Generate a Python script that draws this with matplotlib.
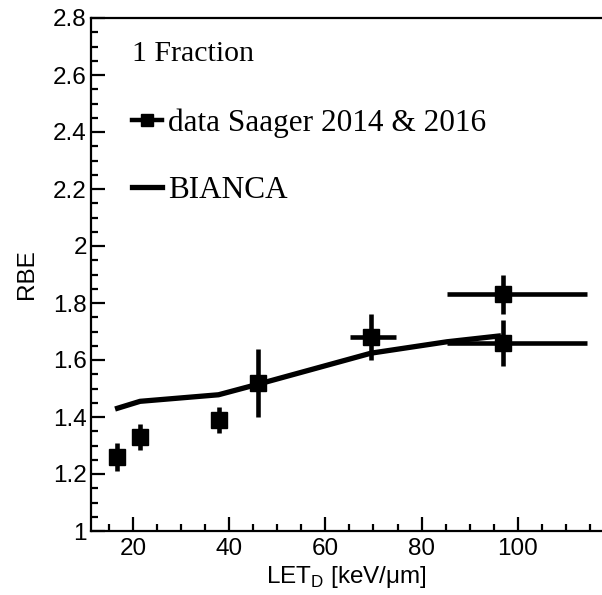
import numpy as np
import matplotlib.pyplot as plt
from matplotlib.ticker import MultipleLocator, FormatStrFormatter
from matplotlib.lines import Line2D

# measured points (Saager 2014 & 2016)
let_d = [16.7, 21.5, 37.9, 46.0, 69.5, 96.9, 96.9]
rbe = [1.26, 1.33, 1.39, 1.52, 1.68, 1.83, 1.66]
rbe_err = [0.05, 0.045, 0.045, 0.12, 0.08, 0.07, 0.08]
let_err_lo = [0, 0, 0, 0, 4.4, 11.6, 11.6]
let_err_hi = [0, 0, 0, 0, 5.2, 17.5, 17.5]

# BIANCA model curve
bianca_let = [16.3, 21.5, 37.8, 46.0, 69.5, 85.3, 96.5]
bianca_rbe = [1.428, 1.455, 1.478, 1.515, 1.624, 1.664, 1.685]

plt.rcParams['font.family'] = ['Liberation Sans', 'DejaVu Sans']
plt.rcParams['mathtext.fontset'] = 'custom'
plt.rcParams['mathtext.rm'] = 'Liberation Sans'

fig = plt.figure(figsize=(6.02, 5.95), dpi=100)
ax = fig.add_axes([91 / 602, 1 - 531 / 595, 1 - 91 / 602, (531 - 18) / 595])

ax.plot(bianca_let, bianca_rbe, color='black', lw=3.8, solid_capstyle='butt')
ax.errorbar(let_d, rbe, yerr=rbe_err, xerr=[let_err_lo, let_err_hi],
            fmt='s', color='black', ms=11, elinewidth=3.3, capsize=0)

ax.set_xlim(11.3, 117.5)
ax.set_ylim(1.0, 2.8)
ax.xaxis.set_major_locator(MultipleLocator(20))
ax.xaxis.set_minor_locator(MultipleLocator(5))
ax.yaxis.set_major_locator(MultipleLocator(0.2))
ax.yaxis.set_minor_locator(MultipleLocator(0.05))
ax.yaxis.set_major_formatter(FormatStrFormatter('%g'))

ax.spines['right'].set_visible(False)
for s in ['left', 'bottom', 'top']:
    ax.spines[s].set_linewidth(1.6)
ax.tick_params(which='both', direction='in', top=False, right=False,
               width=1.6, labelsize=17.5)
ax.tick_params(which='major', length=10)
ax.tick_params(which='minor', length=5)
ax.tick_params(axis='x', pad=5)
ax.tick_params(axis='y', pad=3)

ax.set_xlabel(r'LET$_\mathregular{D}$ [keV/μm]', fontsize=17.5, labelpad=3)
ax.set_ylabel('RBE', fontsize=17.5, labelpad=11)

serif = ['Liberation Serif', 'DejaVu Serif']
ax.text(0.080, 0.916, '1 Fraction', transform=ax.transAxes,
        fontsize=21.5, family=serif, va='baseline')

handles = [
    Line2D([], [], color='black', marker='s', ms=9, lw=3.2),
    Line2D([], [], color='black', lw=3.8),
]
ax.legend(handles, ['data Saager 2014 & 2016', 'BIANCA'],
          loc='upper left', bbox_to_anchor=(0.080, 0.824), frameon=False,
          prop={'family': serif, 'size': 22.5}, handlelength=0.95,
          handletextpad=0.2, labelspacing=1.22, borderpad=0, borderaxespad=0)

fig.savefig('out.png', dpi=100)
